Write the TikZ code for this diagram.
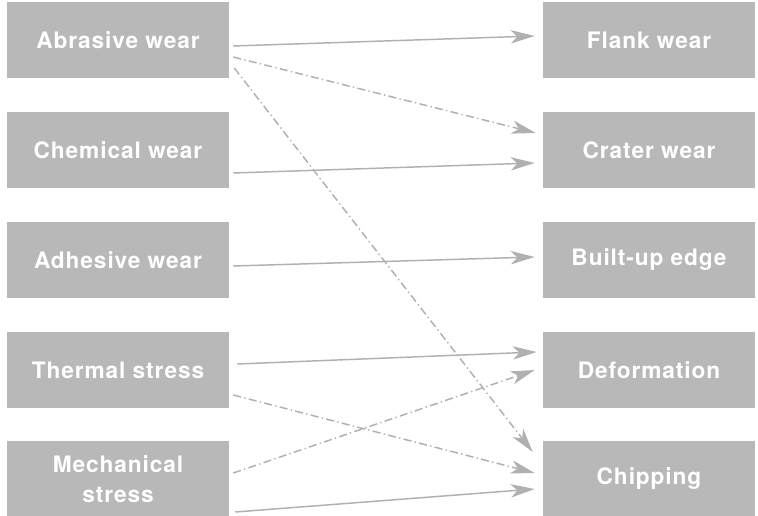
\documentclass[tikz,border=0pt]{standalone}
\usepackage{fontspec}
\setmainfont{TeX Gyre Heros}[LetterSpace=4]
\usepackage{xcolor}
\usepackage{tikz}
\usetikzlibrary{arrows.meta,calc}

\definecolor{boxgray}{HTML}{B8B8B8}
\definecolor{linegray}{HTML}{B0B0B0}

\tikzset{
  cause/.style={fill=boxgray, minimum width=222*0.75pt, minimum height=76*0.75pt,
    inner sep=0pt, text=white, align=center,
    font=\fontsize{17pt}{22.5pt}\selectfont\bfseries},
  effect/.style={cause, minimum width=212*0.75pt},
  link/.style={draw=linegray, line width=1.1pt,
    -{Stealth[length=18pt, width=10pt, inset=5pt]}},
  dlink/.style={link, dash pattern=on 6pt off 2.5pt on 1pt off 2.5pt}
}

\begin{document}
\begin{tikzpicture}[x=0.75pt, y=-0.75pt]
\useasboundingbox (0,0) rectangle (758,516);

\node[cause] (abr) at (118,40) {Abrasive wear};
\node[cause] (che) at (118,150) {Chemical wear};
\node[cause] (adh) at (118,260) {Adhesive wear};
\node[cause] (the) at (118,370) {Thermal stress};
\node[cause] (mec) at (118,479) {Mechanical\\stress};

\node[effect] (fla) at (649,40) {Flank wear};
\node[effect] (cra) at (649,150) {Crater wear};
\node[effect] (bui) at (649,260) {Built-up edge};
\node[effect] (def) at (649,370) {Deformation};
\node[effect] (chi) at (649,479) {Chipping};

\draw[link] ($(abr.east)+(4,6)$) -- ($(fla.west)+(-8,-4)$);
\draw[dlink] ($(abr.east)+(4,17)$) -- ($(cra.west)+(-7,-17)$);
\draw[dlink] ($(abr.east)+(5,28)$) -- ($(chi.west)+(-10,-27)$);
\draw[link] ($(che.east)+(4,23)$) -- ($(cra.west)+(-8,13)$);
\draw[link] ($(adh.east)+(4,6)$) -- ($(bui.west)+(-8,-3)$);
\draw[link] ($(the.east)+(8,-6)$) -- ($(def.west)+(-6,-18)$);
\draw[dlink] ($(the.east)+(4,25)$) -- ($(chi.west)+(-8,-6)$);
\draw[dlink] ($(mec.east)+(4,-6)$) -- ($(def.west)+(-8,0)$);
\draw[link] ($(mec.east)+(6,33)$) -- ($(chi.west)+(-8,10)$);
\end{tikzpicture}
\end{document}
